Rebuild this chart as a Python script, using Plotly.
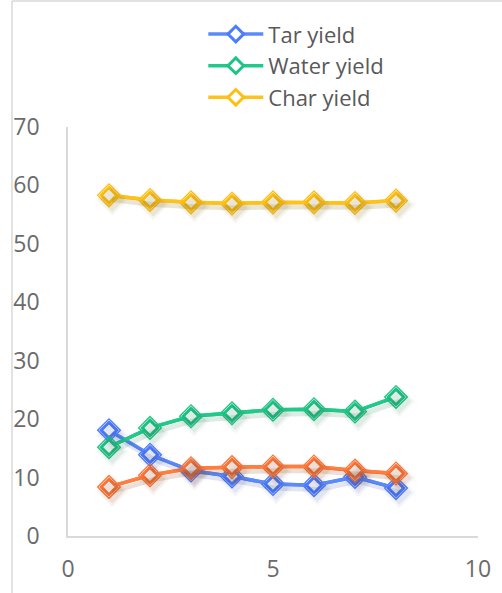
import plotly.graph_objects as go

x_vals = [1, 2, 3, 4, 5, 6, 7, 8]
tar_yield = [18.1, 13.9, 11.2, 10.2, 8.9, 8.7, 10.1, 8.2]
water_yield = [15.2, 18.5, 20.5, 21.0, 21.6, 21.7, 21.3, 23.8]
char_yield = [58.3, 57.5, 57.1, 56.9, 57.1, 57.1, 57.0, 57.4]
gas_yield = [8.4, 10.4, 11.6, 11.8, 11.9, 11.9, 11.2, 10.7]

series = [
    ("Tar yield", tar_yield, "#5B8BFA", "#4C7CFF", True),
    ("Water yield", water_yield, "#21C98A", "#1EC386", True),
    ("Char yield", char_yield, "#FFC21A", "#FFBF12", True),
    ("Gas yield", gas_yield, "#FF7D3F", "#FF7538", False),
]

x_ticks = [0, 5, 10]
y_ticks = [0, 10, 20, 30, 40, 50, 60, 70]

fig = go.Figure()

shadow_colors = {
    "#5B8BFA": "rgba(60,80,160,0.09)",
    "#21C98A": "rgba(30,120,80,0.09)",
    "#FFC21A": "rgba(140,110,20,0.11)",
    "#FF7D3F": "rgba(150,70,30,0.11)",
}

for name, vals, lc, mc, show in series:
    # soft shadow (offset axes)
    for sz, op in [(24, 0.6), (19, 1.0)]:
        fig.add_trace(go.Scatter(
            x=x_vals, y=vals, mode="lines+markers",
            line=dict(color=shadow_colors[lc], width=5),
            marker=dict(symbol="diamond", size=sz, color=shadow_colors[lc], line=dict(width=0)),
            opacity=op, showlegend=False, hoverinfo="skip",
            xaxis="x2", yaxis="y2",
        ))
    fig.add_trace(go.Scatter(
        x=x_vals, y=vals, mode="lines",
        line=dict(color=lc, width=3.5),
        showlegend=False, hoverinfo="skip",
    ))
    fig.add_trace(go.Scatter(
        x=x_vals, y=vals, mode="markers",
        marker=dict(symbol="diamond-open", size=17.5, color=mc, line=dict(width=1.3, color=mc)),
        showlegend=False, hoverinfo="skip",
    ))
    fig.add_trace(go.Scatter(
        x=x_vals, y=vals, mode="lines+markers", name=name,
        line=dict(color=lc, width=3.5),
        marker=dict(symbol="diamond", size=12, color="white", line=dict(width=3, color=mc)),
        showlegend=show,
    ))

axis_font = dict(family="Open Sans, Noto Sans, sans-serif", size=23, color="#6b6b6b")

fig.update_layout(
    width=502, height=593,
    margin=dict(l=68, r=24, t=127, b=57, autoexpand=False),
    paper_bgcolor="white", plot_bgcolor="white",
    font=axis_font,
    xaxis=dict(range=[0, 10], tickvals=x_ticks, showgrid=False, zeroline=False,
               showline=True, linecolor="#d9d9d9", linewidth=1.5, ticks="",
               ticklabelstandoff=12, tickfont=axis_font, fixedrange=True),
    yaxis=dict(range=[0, 70], tickvals=y_ticks, showgrid=False, zeroline=False,
               showline=True, linecolor="#d9d9d9", linewidth=1.5, ticks="",
               ticklabelstandoff=22, tickfont=axis_font, fixedrange=True),
    xaxis2=dict(range=[-0.08, 9.92], overlaying="x", visible=False, fixedrange=True),
    yaxis2=dict(range=[0.75, 70.75], overlaying="y", visible=False, fixedrange=True),
    legend=dict(x=0.33, y=1.278, xanchor="left", yanchor="top",
                font=dict(family="Open Sans, Noto Sans, sans-serif", size=22, color="#595959"),
                itemwidth=55, tracegroupgap=0, bgcolor="rgba(0,0,0,0)"),
    shapes=[
        dict(type="line", xref="paper", yref="paper", x0=-0.1366, x1=-0.1366, y0=-0.2, y1=1.308,
             line=dict(color="#d9d9d9", width=1.5)),
        dict(type="line", xref="paper", yref="paper", x0=-0.1366, x1=1.2, y0=1.308, y1=1.308,
             line=dict(color="#d9d9d9", width=1.5)),
    ],
    showlegend=True,
)

fig.write_html("out.html")
